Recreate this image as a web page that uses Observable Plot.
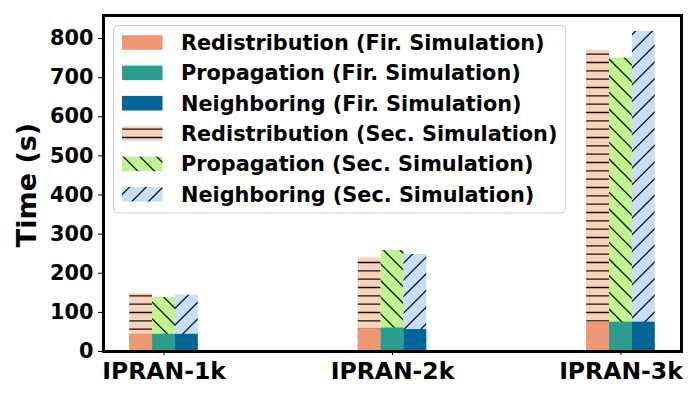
<!DOCTYPE html>
<html><head><meta charset="utf-8">
<script src="https://cdn.jsdelivr.net/npm/d3@7"></script>
<script src="https://cdn.jsdelivr.net/npm/@observablehq/plot@0.6"></script>
<style>
html,body{margin:0;padding:0;background:#fff;}
#chart{position:relative;width:700px;height:400px;}
svg{display:block;}
</style></head><body><div id="chart"></div>
<script>
// ---- data ----
const groups = ["IPRAN-1k", "IPRAN-2k", "IPRAN-3k"];
const phases = ["Redistribution", "Propagation", "Neighboring"];
const redistFir = [44, 58, 75];
const propFir   = [44, 60, 75];
const neighFir  = [44, 56, 75];
const redistSec = [148, 239, 770];
const propSec   = [138, 258, 750];
const neighSec  = [144, 248, 818];
const yTicks = [0, 100, 200, 300, 400, 500, 600, 700, 800];
const legendLabels = [
  "Redistribution (Fir. Simulation)",
  "Propagation (Fir. Simulation)",
  "Neighboring (Fir. Simulation)",
  "Redistribution (Sec. Simulation)",
  "Propagation (Sec. Simulation)",
  "Neighboring (Sec. Simulation)"
];

// ---- styles ----
const solidColors = ["#EF9674", "#2A9D8F", "#006494"];
const hatchBg = ["#F8D3BA", "#C0F490", "#C6DEF7"];
const hatchIds = ["hatch-redist", "hatch-prop", "hatch-neigh"];
const barW = 0.1;

const firAll = [redistFir, propFir, neighFir];
const secAll = [redistSec, propSec, neighSec];
const rows = [];
groups.forEach((g, gi) => {
  phases.forEach((p, pi) => {
    const c = gi + (pi - 1) * barW;
    rows.push({group: g, phase: pi, x1: c - barW / 2, x2: c + barW / 2, fir: firAll[pi][gi], sec: secAll[pi][gi]});
  });
});

const yMax = d3.max(rows, d => Math.max(d.fir, d.sec)) * 1.05;
const xPad = (2 + barW * 1.5 + barW * 1.5) * 0.05;

const marks = [];
phases.forEach((p, pi) => {
  marks.push(Plot.rectY(rows.filter(d => d.phase === pi), {x1: "x1", x2: "x2", y1: 0, y2: "sec", fill: `url(#${hatchIds[pi]})`}));
});
phases.forEach((p, pi) => {
  marks.push(Plot.rectY(rows.filter(d => d.phase === pi), {x1: "x1", x2: "x2", y1: 0, y2: "fir", fill: solidColors[pi]}));
});
marks.push(Plot.axisY({ticks: yTicks, tickSize: 5, tickPadding: 5, fontSize: 20.8, label: null, strokeWidth: 1}));
marks.push(Plot.axisX({ticks: [0, 1, 2], tickFormat: i => groups[i], tickSize: 4, tickPadding: 7, fontSize: 23.5, label: null, strokeWidth: 1}));
marks.push(Plot.frame({stroke: "black", strokeWidth: 3}));

const svgEl = Plot.plot({
  width: 700, height: 400,
  marginLeft: 103, marginRight: 19, marginTop: 15, marginBottom: 49,
  style: {fontFamily: "'DejaVu Sans', sans-serif", fontWeight: "bold", background: "white", color: "black", overflow: "visible"},
  x: {type: "linear", domain: [-0.15 - xPad, 2.15 + xPad]},
  y: {domain: [0, yMax]},
  marks
});
document.getElementById("chart").appendChild(svgEl);

// ---- hatch patterns (figure-aligned, 100px tile) ----
const svg = d3.select(svgEl);
const defs = svg.insert("defs", ":first-child");
function pattern(id, bg, drawLines) {
  const pt = defs.append("pattern").attr("id", id).attr("patternUnits", "userSpaceOnUse")
    .attr("x", 0).attr("y", 0).attr("width", 100).attr("height", 100);
  pt.append("rect").attr("width", 100).attr("height", 100).attr("fill", bg);
  drawLines(pt.append("g").attr("stroke", "#111").attr("stroke-width", 1.3).attr("fill", "none"));
}
const P = 100 / 6;
pattern(hatchIds[0], hatchBg[0], g => {
  for (let k = 0; k < 12; k++) {
    const y = (k + 0.5) * (100 / 12);
    g.append("line").attr("x1", -1).attr("x2", 101).attr("y1", y).attr("y2", y);
  }
});
pattern(hatchIds[1], hatchBg[1], g => { // "\" : x - y = k P
  for (let k = -7; k <= 7; k++) {
    const c = k * P;
    g.append("line").attr("x1", -10).attr("y1", -10 - c).attr("x2", 110).attr("y2", 110 - c);
  }
});
pattern(hatchIds[2], hatchBg[2], g => { // "/" : x + y = k P
  for (let k = -1; k <= 13; k++) {
    const c = k * P;
    g.append("line").attr("x1", -10).attr("y1", c + 10).attr("x2", 110).attr("y2", c - 110);
  }
});

// ---- y label ----
svg.append("text")
  .attr("transform", "translate(35.5,185) rotate(-90)")
  .attr("text-anchor", "middle")
  .attr("font-size", 27).attr("font-weight", "bold").attr("fill", "black")
  .text("Time (s)");

// ---- legend ----
const lg = svg.append("g").attr("text-anchor", "start");
lg.append("rect").attr("x", 113.5).attr("y", 25.5).attr("width", 452).attr("height", 187.5)
  .attr("rx", 4).attr("fill", "white").attr("fill-opacity", 0.8).attr("stroke", "#cccccc").attr("stroke-width", 1);
const swFill = [...solidColors, ...hatchIds.map(id => `url(#${id})`)];
legendLabels.forEach((lab, i) => {
  const cy = 42.5 + i * 30.35;
  lg.append("rect").attr("x", 122).attr("y", cy - 7.3).attr("width", 40.5).attr("height", 14.6).attr("fill", swFill[i]);
  lg.append("text").attr("x", 181).attr("y", cy + 7.5).attr("text-anchor", "start").attr("font-size", 20.8).attr("font-weight", "bold")
    .attr("fill", "black").text(lab);
});
</script></body></html>
